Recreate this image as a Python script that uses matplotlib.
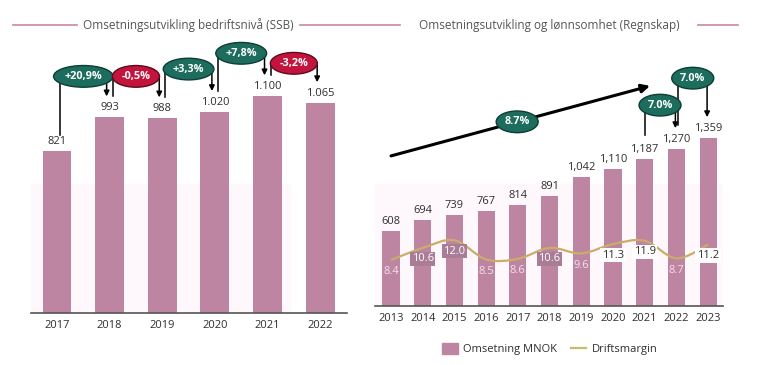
import matplotlib
matplotlib.use("Agg")
import matplotlib.pyplot as plt
from matplotlib.lines import Line2D
from matplotlib.patches import Patch, PathPatch
from matplotlib.path import Path

plt.rcParams['font.family'] = ['Open Sans', 'DejaVu Sans']

# --- data: SSB (left) ---
years_ssb = ['2017', '2018', '2019', '2020', '2021', '2022']
revenue_ssb = [821, 993, 988, 1020, 1100, 1065]
change_ssb = ['+20,9%', '-0,5%', '+3,3%', '+7,8%', '-3,2%']

# --- data: Regnskap (right) ---
years_reg = ['2013', '2014', '2015', '2016', '2017', '2018', '2019', '2020', '2021', '2022', '2023']
revenue_reg = [608, 694, 739, 767, 814, 891, 1042, 1110, 1187, 1270, 1359]
margin_reg = [8.4, 10.6, 12.0, 8.5, 8.6, 10.6, 9.6, 11.3, 11.9, 8.7, 11.2]
cagr_label = '8.7%'
change_reg = ['7.0%', '7.0%']

# layout / style
BAR = '#bd85a1'
GREEN = '#1c6d5d'
RED = '#c3143d'
GOLD = '#c9ad68'
TXT = '#2e2e2e'
ssb_lift_px = [41, 41, 43, 43, 33]
reg_lift_px = [44, 60]
margin_style = ['plain', 'box', 'box', 'plain', 'plain', 'box', 'plain', 'white', 'white', 'plain', 'white']

W, H = 770, 365
fig = plt.figure(figsize=(7.7, 3.65), dpi=100)


def style_axis(ax):
    for s in ['top', 'right', 'left']:
        ax.spines[s].set_visible(False)
    ax.spines['bottom'].set_color('#555555')
    ax.spines['bottom'].set_linewidth(1.2)
    ax.set_yticks([])
    ax.tick_params(axis='x', length=0, pad=5, labelsize=8, labelcolor=TXT)
    ax.patch.set_alpha(0)


def bubble(ax, x, y, text, color, size=7.8):
    edge = '#0e3d33' if color == GREEN else '#5e0a1c'
    ax.text(x, y, text, ha='center', va='center', fontsize=size, color='white',
            fontweight='bold', zorder=6,
            bbox=dict(boxstyle='ellipse,pad=0.2', fc=color, ec=edge, lw=1))


def bracket(ax, x0, x1, y0, ylev, y1, text, color):
    ax.plot([x0, x0, x1], [y0, ylev, ylev], color='black', lw=1.1, zorder=4, clip_on=False)
    ax.annotate('', xy=(x1, y1), xytext=(x1, ylev),
                arrowprops=dict(arrowstyle='-|>', color='black', lw=1.1,
                                mutation_scale=8, shrinkA=0, shrinkB=0), zorder=4)
    bubble(ax, (x0 + x1) / 2, ylev, text, color)


# ---------------- left chart ----------------
axl = fig.add_axes([31 / W, 52 / H, 316 / W, 293 / H])
style_axis(axl)
l_upp = 1 / 0.197  # data units per pixel
axl.set_ylim(0, 293 * l_upp)
axl.set_xlim(-0.494, 5.51)
xl = list(range(len(years_ssb)))
axl.axhspan(0, 129 * l_upp, xmin=0, xmax=0.82, color='#fef7fc', zorder=0)
axl.bar(xl, revenue_ssb, width=0.55, color=BAR, zorder=2)
axl.set_xticks(xl)
axl.set_xticklabels(years_ssb)
for x, v in zip(xl, revenue_ssb):
    axl.annotate(f'{v:,}'.replace(',', '.'), (x, v), xytext=(0, 3), textcoords='offset points',
                 ha='center', va='bottom', fontsize=8, color=TXT)
dxl = 3 / 52.6
for i, txt in enumerate(change_ssb):
    a, b = revenue_ssb[i], revenue_ssb[i + 1]
    lev = max(a, b) + ssb_lift_px[i] * l_upp
    start = a + (16 if i == 0 else 21) * l_upp
    bracket(axl, i + dxl, i + 1 - dxl, start, lev, b + 21 * l_upp, txt,
            GREEN if txt.startswith('+') else RED)

# ---------------- right chart ----------------
axr = fig.add_axes([375 / W, 59 / H, 348 / W, 286 / H])
style_axis(axr)
r_upp = 1 / 0.1235
axr.set_ylim(0, 286 * r_upp)
axr.set_xlim(-0.505, 10.47)
xr = list(range(len(years_reg)))
axr.axhspan(0, 122 * r_upp, color='#fef7fc', zorder=0)
axr.bar(xr, revenue_reg, width=0.54, color=BAR, zorder=2)
axr.set_xticks(xr)
axr.set_xticklabels(years_reg)
for x, v in zip(xr, revenue_reg):
    axr.annotate(f'{v:,}', (x, v), xytext=(0, 3), textcoords='offset points',
                 ha='center', va='bottom', fontsize=8, color=TXT)

# long CAGR arrow
a_start = (xr[0], revenue_reg[0] + 75 * r_upp)
a_end = (8.17, revenue_reg[0] + 145 * r_upp)
axr.annotate('', xy=a_end, xytext=a_start,
             arrowprops=dict(arrowstyle='-|>', color='black', lw=2.2, mutation_scale=12,
                             shrinkA=0, shrinkB=0), zorder=4)
mid = 0.487
bubble(axr, a_start[0] + (a_end[0] - a_start[0]) * mid,
       a_start[1] + (a_end[1] - a_start[1]) * mid, cagr_label, GREEN)

dxr = 1 / 31.7
for k, txt in enumerate(change_reg):
    i = len(revenue_reg) - 3 + k
    a, b = revenue_reg[i], revenue_reg[i + 1]
    lev = max(a, b) + reg_lift_px[k] * r_upp
    bracket(axr, i + 2 * dxr * k, i + 1 - dxr, a + 24 * r_upp, lev, b + 21 * r_upp, txt, GREEN)

# margin line on twin axis
axm = axr.twinx()
axm.set_ylim(0, 286 / 5.48)
axm.axis('off')
verts = [(xr[0], margin_reg[0])]
codes = [Path.MOVETO]
n = len(margin_reg)
for i in range(n - 1):
    p0 = (xr[max(i - 1, 0)], margin_reg[max(i - 1, 0)])
    p1 = (xr[i], margin_reg[i])
    p2 = (xr[i + 1], margin_reg[i + 1])
    p3 = (xr[min(i + 2, n - 1)], margin_reg[min(i + 2, n - 1)])
    c1 = (p1[0] + (p2[0] - p0[0]) / 6, p1[1] + (p2[1] - p0[1]) / 6)
    c2 = (p2[0] - (p3[0] - p1[0]) / 6, p2[1] - (p3[1] - p1[1]) / 6)
    verts += [c1, c2, p2]
    codes += [Path.CURVE4] * 3
axm.add_patch(PathPatch(Path(verts, codes), fc='none', ec=GOLD, lw=1.6, zorder=3))
for x, v, st in zip(xr, margin_reg, margin_style):
    kw = dict(ha='center', va='center', fontsize=8, zorder=5)
    if st == 'plain':
        axm.annotate(f'{v:.1f}', (x, v), xytext=(0, -12), textcoords='offset pixels',
                     color='#f7dfec', **kw)
    elif st == 'box':
        axm.annotate(f'{v:.1f}', (x, v), xytext=(0, -11), textcoords='offset pixels',
                     color='white', bbox=dict(boxstyle='square,pad=0.15', fc='#a87d95', ec='none'), **kw)
    else:
        axm.annotate(f'{v:.1f}', (x, v), xytext=(0, -11), textcoords='offset pixels',
                     color=TXT, bbox=dict(boxstyle='square,pad=0.15', fc='white', ec='none'), **kw)

# titles with rules
tline = '#c8879f'
for x0, x1 in [(13, 77), (300, 400), (698, 738)]:
    fig.add_artist(Line2D([x0 / W, x1 / W], [1 - 25 / H, 1 - 25 / H], color=tline, lw=1.2))
fig.text(188 / W, 1 - 25 / H, 'Omsetningsutvikling bedriftsnivå (SSB)', ha='center', va='center',
         fontsize=8.5, color='#555555')
fig.text(549 / W, 1 - 25 / H, 'Omsetningsutvikling og lønnsomhet (Regnskap)', ha='center', va='center',
         fontsize=8.5, color='#555555')

handles = [Patch(color=BAR), Line2D([0], [0], color='#c4be6c', lw=1.6)]
fig.legend(handles, ['Omsetning MNOK', 'Driftsmargin'], loc='center', bbox_to_anchor=(550 / W, 1 - 349 / H),
           ncol=2, frameon=False, fontsize=8, handlelength=1.4, handleheight=1.1,
           columnspacing=1.2, handletextpad=0.5, labelcolor=TXT)

fig.savefig('out.png', dpi=100)
